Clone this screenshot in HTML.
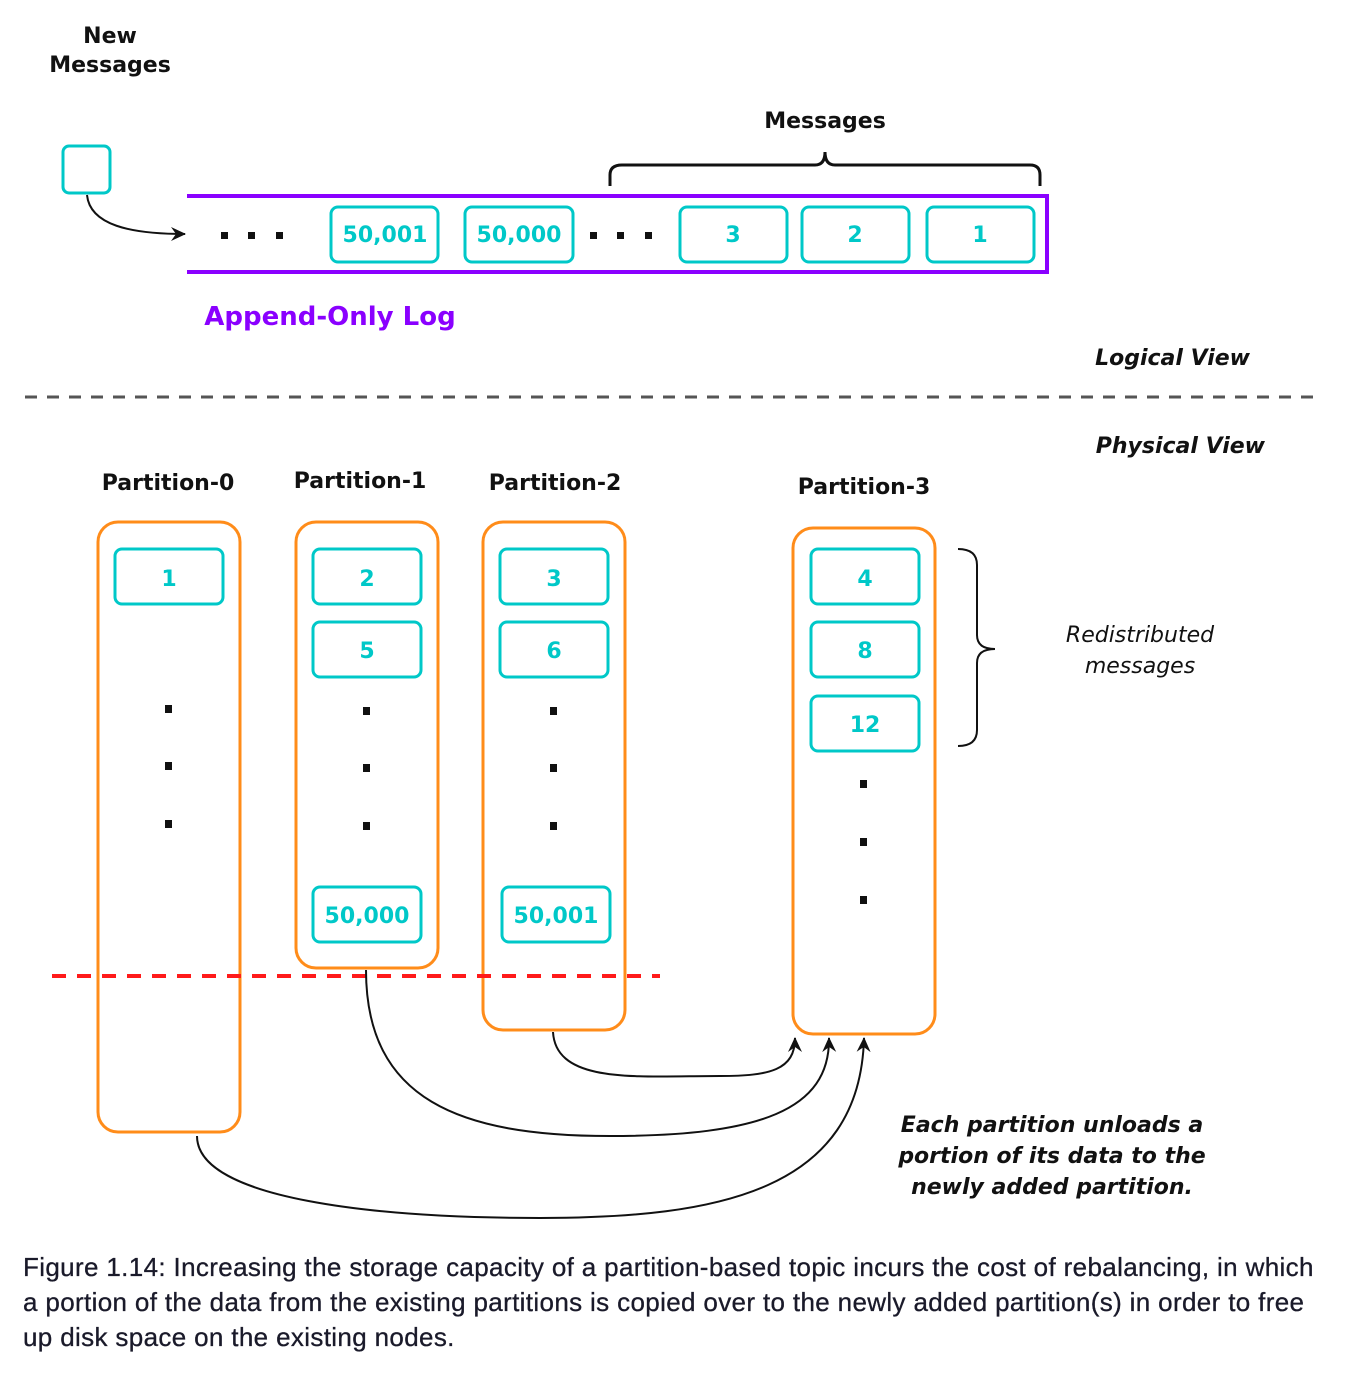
<!DOCTYPE html>
<html><head><meta charset="utf-8"><style>
body{margin:0;background:#fff;}
svg{display:block;}
.t{font-family:"DejaVu Sans","Liberation Sans",sans-serif;font-weight:bold;}
.c{fill:#00c8c8;font-size:22px;text-anchor:middle;}
.cap{font-family:"Liberation Sans",sans-serif;font-size:26px;color:#1a1a2a;position:absolute;left:23px;top:1250px;line-height:35px;white-space:nowrap;letter-spacing:0.35px;-webkit-text-stroke:0.3px #1a1a2a;}
</style></head><body>
<div style="position:relative;width:1345px;height:1380px;overflow:hidden;">
<svg width="1345" height="1380" viewBox="0 0 1345 1380">
<defs><marker id="ar" markerWidth="16" markerHeight="16" refX="14" refY="7" orient="auto" markerUnits="userSpaceOnUse"><path d="M0,0 L15,7 L0,14 L5,7 Z" fill="#111"/></marker></defs>
<g class="t" font-size="22" fill="#111">
<text x="110" y="43" text-anchor="middle">New</text>
<text x="110" y="72" text-anchor="middle">Messages</text>
<text x="825" y="128" text-anchor="middle">Messages</text>
<text x="330" y="325" text-anchor="middle" fill="#8a00ff" font-size="26">Append-Only Log</text>
<text x="1250" y="365" text-anchor="end" font-style="italic">Logical View</text>
<text x="1265" y="453" text-anchor="end" font-style="italic">Physical View</text>
<text x="168" y="490" text-anchor="middle">Partition-0</text>
<text x="360" y="488" text-anchor="middle">Partition-1</text>
<text x="555" y="490" text-anchor="middle">Partition-2</text>
<text x="864" y="494" text-anchor="middle">Partition-3</text>
</g>
<g font-family="DejaVu Sans, sans-serif" font-size="22" fill="#111" font-style="italic">
<text x="1140" y="642" text-anchor="middle">Redistributed</text>
<text x="1140" y="673" text-anchor="middle">messages</text>
</g>
<g class="t" font-size="22" fill="#111" font-style="italic" text-anchor="middle">
<text x="1052" y="1132">Each partition unloads a</text>
<text x="1052" y="1163">portion of its data to the</text>
<text x="1052" y="1194">newly added partition.</text>
</g>
<rect x="63" y="146" width="47" height="47" rx="6" fill="none" stroke="#00c8c8" stroke-width="3"/>
<path d="M87,195 C90,225 130,234 185,234" fill="none" stroke="#111" stroke-width="2" marker-end="url(#ar)"/>
<path d="M610,186 L610,175 Q610,165 622,165 L815,165 Q825,165 825,152 Q825,165 835,165 L1030,165 Q1040,165 1040,175 L1040,186" fill="none" stroke="#111" stroke-width="3"/>
<path d="M187,196 L1047,196 L1047,272 L187,272" fill="none" stroke="#8a00ff" stroke-width="4"/>
<g fill="#111"><rect x="221" y="232" width="7" height="7"/><rect x="248" y="232" width="7" height="7"/><rect x="276" y="232" width="7" height="7"/>
<rect x="590" y="232" width="7" height="7"/><rect x="617" y="232" width="7" height="7"/><rect x="645" y="232" width="7" height="7"/></g>
<g fill="none" stroke="#00c8c8" stroke-width="3">
<rect x="331" y="207" width="107" height="55" rx="7"/>
<rect x="465" y="207" width="108" height="55" rx="7"/>
<rect x="680" y="207" width="107" height="55" rx="7"/>
<rect x="802" y="207" width="107" height="55" rx="7"/>
<rect x="927" y="207" width="107" height="55" rx="7"/>
</g>
<g class="t c">
<text x="385" y="242">50,001</text><text x="519" y="242">50,000</text>
<text x="733" y="242">3</text><text x="855" y="242">2</text><text x="980" y="242">1</text>
</g>
<line x1="25" y1="397" x2="1320" y2="397" stroke="#555" stroke-width="3" stroke-dasharray="12,10"/>
<g fill="none" stroke="#ff8c1a" stroke-width="3">
<rect x="98" y="522" width="142" height="610" rx="20"/>
<rect x="296" y="522" width="142" height="446" rx="20"/>
<rect x="483" y="522" width="142" height="508" rx="20"/>
<rect x="793" y="528" width="142" height="506" rx="20"/>
</g>
<g fill="none" stroke="#00c8c8" stroke-width="3">
<rect x="115" y="549" width="108" height="55" rx="7"/>
<rect x="313" y="549" width="108" height="55" rx="7"/>
<rect x="313" y="622" width="108" height="55" rx="7"/>
<rect x="313" y="887" width="108" height="55" rx="7"/>
<rect x="500" y="549" width="108" height="55" rx="7"/>
<rect x="500" y="622" width="108" height="55" rx="7"/>
<rect x="502" y="887" width="108" height="55" rx="7"/>
<rect x="811" y="549" width="108" height="55" rx="7"/>
<rect x="811" y="622" width="108" height="55" rx="7"/>
<rect x="811" y="696" width="108" height="55" rx="7"/>
</g>
<g class="t c">
<text x="169" y="586">1</text><text x="367" y="586">2</text><text x="367" y="658">5</text><text x="367" y="923">50,000</text>
<text x="554" y="586">3</text><text x="554" y="658">6</text><text x="556" y="923">50,001</text>
<text x="865" y="586">4</text><text x="865" y="658">8</text><text x="865" y="732">12</text>
</g>
<g fill="#111">
<rect x="165" y="705" width="7" height="8"/><rect x="165" y="762" width="7" height="8"/><rect x="165" y="820" width="7" height="8"/>
<rect x="363" y="707" width="7" height="8"/><rect x="363" y="764" width="7" height="8"/><rect x="363" y="822" width="7" height="8"/>
<rect x="550" y="707" width="7" height="8"/><rect x="550" y="764" width="7" height="8"/><rect x="550" y="822" width="7" height="8"/>
<rect x="860" y="780" width="7" height="8"/><rect x="860" y="838" width="7" height="8"/><rect x="860" y="896" width="7" height="8"/>
</g>
<path d="M958,549 Q977,549 977,565 L977,635 Q977,649 995,649 Q977,649 977,663 L977,730 Q977,746 958,746" fill="none" stroke="#111" stroke-width="2"/>
<line x1="52" y1="976" x2="660" y2="976" stroke="#ff1a1a" stroke-width="4" stroke-dasharray="14,11"/>
<g fill="none" stroke="#111" stroke-width="2">
<path d="M553,1032 C556,1085 640,1076 720,1076 C770,1076 795,1070 795,1038" marker-end="url(#ar)"/>
<path d="M366,970 C366,1100 460,1136 610,1136 C760,1136 830,1110 829,1038" marker-end="url(#ar)"/>
<path d="M197,1136 C197,1200 380,1218 540,1218 C720,1218 860,1190 864,1038" marker-end="url(#ar)"/>
</g>
</svg>
<div class="cap">Figure 1.14: Increasing the storage capacity of a partition-based topic incurs the cost of rebalancing, in which<br>a portion of the data from the existing partitions is copied over to the newly added partition(s) in order to free<br>up disk space on the existing nodes.</div>
</div>
</body></html>
